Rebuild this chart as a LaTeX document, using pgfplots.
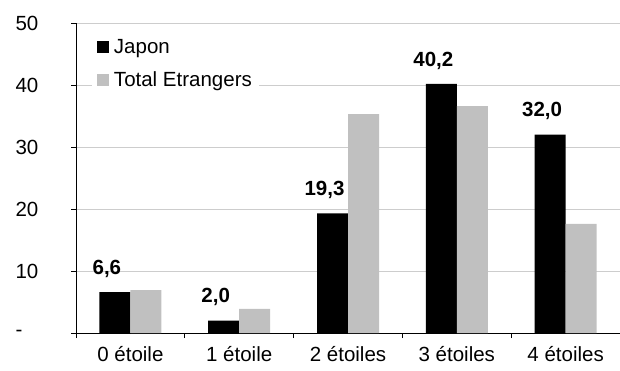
\documentclass[border=0pt]{standalone}
\usepackage{fontspec}
\setmainfont{Liberation Sans}
\usepackage{pgfplots}
\pgfplotsset{compat=1.18}
\definecolor{grisbar}{RGB}{192,192,192}
\definecolor{grille}{RGB}{205,205,205}
\begin{document}
\begin{tikzpicture}
\path[use as bounding box] (0pt,0pt) rectangle (620pt,370pt);
\begin{axis}[
  at={(76pt,37pt)}, anchor=south west,
  width=544pt, height=310pt, scale only axis,
  xmin=-0.5, xmax=4.5, ymin=0, ymax=50,
  ybar=0pt, bar width=31pt,
  axis x line*=bottom, axis y line*=left,
  axis line style={line width=0.8pt},
  font=\fontsize{20.5}{24}\selectfont,
  ytick={0,10,20,30,40,50}, yticklabels={-,10,20,30,40,50},
  yticklabel style={anchor=west, xshift=-59pt},
  ymajorgrids, grid style={draw=grille, line width=1pt},
  tick align=outside, major tick length=5pt,
  tick style={line width=0.8pt, black},
  xtick={-0.5,0.5,1.5,2.5,3.5},
  xticklabels={},
  extra x ticks={0,1,2,3,4},
  extra x tick labels={0 étoile,1 étoile,2 étoiles,3 étoiles,4 étoiles},
  extra x tick style={major tick length=0pt, grid=none, xticklabel style={yshift=-10pt}},
  legend cell align=left,
  legend style={at={(axis description cs:0.029,0.975)}, anchor=north west,
    draw=none, fill=white, row sep=13pt, inner xsep=5pt, inner ysep=6pt,
    font=\fontsize{20.5}{24}\selectfont},
  legend image code/.code={\fill[#1] (0pt,-6pt) rectangle (12pt,6pt); \path (15pt,0pt);},
]
\addplot[fill=black, draw=none,
  nodes near coords={\pgfmathprintnumber[fixed,fixed zerofill,precision=1,use comma,assume math mode=true]{\pgfplotspointmeta}},
  every node near coord/.append style={font=\fontsize{20.5}{24}\selectfont\bfseries, anchor=south, xshift=-8pt, yshift=11pt}]
  coordinates {(0,6.6) (1,2.0) (2,19.3) (3,40.2) (4,32.0)};
\addplot[fill=grisbar, draw=none]
  coordinates {(0,6.9) (1,3.9) (2,35.3) (3,36.6) (4,17.6)};
\legend{Japon, Total Etrangers}
\end{axis}
\end{tikzpicture}
\end{document}
